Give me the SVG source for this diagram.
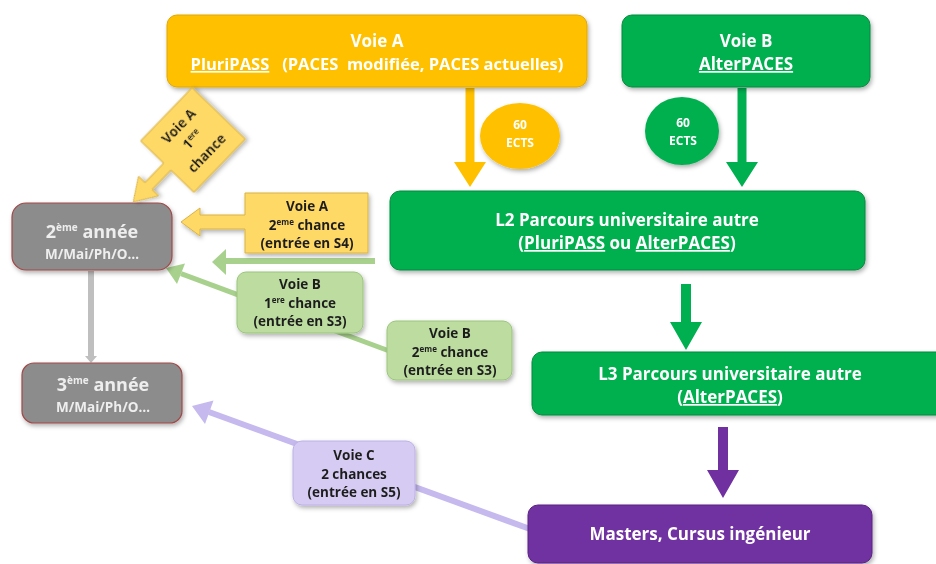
<svg xmlns="http://www.w3.org/2000/svg" width="936" height="564" viewBox="0 0 936 564">
<defs>
<style>
text{font-family:"Open Sans","Liberation Sans",Arial,sans-serif;font-weight:700;text-anchor:middle}
.w{fill:#ffffff}
.lg{fill:#eeeeee}
.d{fill:#1f1f1f}
.c{font-size:13.5px}
.yel{fill:#FFC000;stroke:#E0A800;stroke-width:1}
.grn{fill:#00B050;stroke:#0A8A3E;stroke-width:1}
.pur{fill:#7030A0;stroke:#5A2282;stroke-width:1}
.gry{fill:#8C8C8C;stroke:#A04848;stroke-width:1.2}
.cy{fill:#FFD966;stroke:#D9B345;stroke-width:1}
.cg{fill:#BCDCA0;stroke:#9BC57C;stroke-width:1}
.cp{fill:#D6CCF3;stroke:#BDB0E6;stroke-width:1}
.sh{filter:url(#shadow)}
</style>
<filter id="shadow" x="-10%" y="-10%" width="130%" height="140%">
<feDropShadow dx="1.5" dy="2.5" stdDeviation="2" flood-color="#000" flood-opacity="0.3"/>
</filter>
</defs>
<rect width="936" height="564" fill="#ffffff"/>

<g id="connectors">
<polygon id="c-a-l2" fill="#FFC000" points="465.5,88 474.5,88 474.5,162 486,162 470,187 454,162 465.5,162"/>
<polygon id="c-b-l2" fill="#00B050" points="737.5,88 746.5,88 746.5,162 758,162 742,187 726,162 737.5,162"/>
<polygon id="c-l2-l3" fill="#00B050" points="681,284 691,284 691,322 702,322 686,350 670,322 681,322"/>
<polygon id="c-l3-m" fill="#7030A0" points="718,427 728,427 728,470 739,470 723,498 707,470 718,470"/>
<polygon id="c-2-3" fill="#BFBFBF" points="88,271 94,271 94,356 97,356 91,363 85,356 88,356"/>
<g id="c-l2-2a">
<line x1="375" y1="261" x2="224" y2="261" stroke="#A9D18E" stroke-width="6"/>
<polygon fill="#A9D18E" points="226,249 212,262 226,275"/>
</g>
<g id="c-b2-2a">
<line x1="392" y1="352" x2="181" y2="273.6" stroke="#A9D18E" stroke-width="5"/>
<polygon fill="#A9D18E" points="166,268 185,263.5 177,284"/>
</g>
<g id="c-m-3a">
<line x1="530" y1="529" x2="209" y2="412" stroke="#C5B9EE" stroke-width="6"/>
<polygon fill="#C5B9EE" points="192,406 213.5,400.5 205,424"/>
</g>
</g>

<g id="voieA" class="sh">
<rect class="yel" x="167" y="15" width="420" height="72" rx="10"/>
<text class="w" x="377" y="47" font-size="17">Voie A</text>
<text class="w" x="377" y="70" font-size="16.5" xml:space="preserve"><tspan text-decoration="underline">PluriPASS</tspan>   (PACES  modifiée, PACES actuelles)</text>
</g>

<g id="voieB" class="sh">
<rect class="grn" x="622" y="15" width="248" height="72" rx="10"/>
<text class="w" x="746" y="47" font-size="17">Voie B</text>
<text class="w" x="746" y="70" font-size="17" text-decoration="underline">AlterPACES</text>
</g>

<g id="ectsA" class="sh">
<ellipse cx="520" cy="136" rx="40" ry="33" fill="#FFC000"/>
<text class="w" x="520" y="129" font-size="12">60</text>
<text class="w" x="520" y="147" font-size="12">ECTS</text>
</g>

<g id="ectsB" class="sh">
<ellipse cx="682" cy="131" rx="37" ry="34" fill="#00B050"/>
<text class="w" x="683" y="127" font-size="12">60</text>
<text class="w" x="683" y="145" font-size="12">ECTS</text>
</g>

<g id="l2" class="sh">
<rect class="grn" x="390" y="191" width="475" height="79" rx="10"/>
<text class="w" x="627" y="226" font-size="17">L2 Parcours universitaire autre</text>
<text class="w" x="627" y="249" font-size="17">(<tspan text-decoration="underline">PluriPASS</tspan> ou <tspan text-decoration="underline">AlterPACES</tspan>)</text>
</g>

<g id="l3" class="sh">
<rect class="grn" x="532" y="352" width="414" height="63" rx="10"/>
<text class="w" x="730" y="380" font-size="17">L3 Parcours universitaire autre</text>
<text class="w" x="730" y="403" font-size="17">(<tspan text-decoration="underline">AlterPACES</tspan>)</text>
</g>

<g id="masters" class="sh">
<rect class="pur" x="528" y="505" width="344" height="58" rx="10"/>
<text class="w" x="700" y="540" font-size="17">Masters, Cursus ingénieur</text>
</g>

<g id="annee2" class="sh">
<rect class="gry" x="12" y="203" width="160" height="67" rx="14"/>
<text class="lg" x="92" y="238" font-size="18">2<tspan font-size="10" dy="-7">ème</tspan><tspan dy="7"> année</tspan></text>
<text class="lg" x="92" y="259" font-size="13.5">M/Mai/Ph/O…</text>
</g>

<g id="annee3" class="sh">
<rect class="gry" x="22" y="363" width="160" height="60" rx="12"/>
<text class="lg" x="103" y="391" font-size="18">3<tspan font-size="10" dy="-7">ème</tspan><tspan dy="7"> année</tspan></text>
<text class="lg" x="103" y="412" font-size="13.5">M/Mai/Ph/O…</text>
</g>

<g id="voieA1" class="sh" transform="translate(193,140) rotate(-46)">
<path class="cy" d="M-37,-37 H37 V37 H-37 V5 H-64 V14 L-86,0 L-64,-14 V-5 H-37 Z"/>
<text class="d c" x="0" y="-15">Voie A</text>
<text class="d c" x="0" y="4">1<tspan font-size="8" dy="-5">ere</tspan></text>
<text class="d c" x="0" y="24">chance</text>
</g>

<g id="voieA2" class="sh">
<path class="cy" d="M245,193 H368 V253 H245 V229 H200 V236 L181,222 L200,208 V215 H245 Z"/>
<text class="d c" x="307" y="211">Voie A</text>
<text class="d c" x="307" y="229.5">2<tspan font-size="8" dy="-5">eme</tspan><tspan dy="5"> chance</tspan></text>
<text class="d c" x="307" y="248">(entrée en S4)</text>
</g>

<g id="voieB1" class="sh">
<rect class="cg" x="237" y="272" width="126" height="61" rx="9"/>
<text class="d c" x="300" y="289">Voie B</text>
<text class="d c" x="300" y="307.5">1<tspan font-size="8" dy="-5">ere</tspan><tspan dy="5"> chance</tspan></text>
<text class="d c" x="300" y="326">(entrée en S3)</text>
</g>

<g id="voieB2" class="sh">
<rect class="cg" x="387" y="321" width="125" height="59" rx="9"/>
<text class="d c" x="450" y="338">Voie B</text>
<text class="d c" x="450" y="356.5">2<tspan font-size="8" dy="-5">eme</tspan><tspan dy="5"> chance</tspan></text>
<text class="d c" x="450" y="375">(entrée en S3)</text>
</g>

<g id="voieC" class="sh">
<rect class="cp" x="293" y="441" width="122" height="64" rx="9"/>
<text class="d c" x="354" y="460">Voie C</text>
<text class="d c" x="354" y="478.5">2 chances</text>
<text class="d c" x="354" y="497">(entrée en S5)</text>
</g>
</svg>
